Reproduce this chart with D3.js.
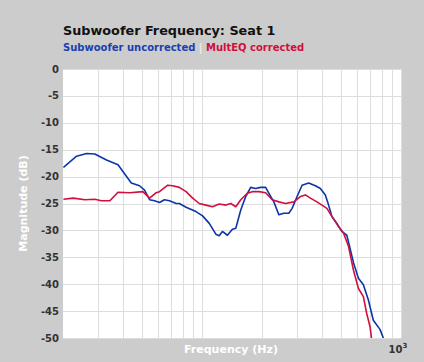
<!DOCTYPE html>
<html lang="en">

<head>
    <meta charset="utf-8">
    <title>Subwoofer Frequency: Seat 1</title>
    <script type="text/javascript" src="https://cdn.jsdelivr.net/npm/d3@7"></script>
    <style type="text/css">
    body {
        margin: 0;
        background: #cccccc;
    }
    text {
        font-family: "DejaVu Sans", Verdana, sans-serif;
        font-weight: bold;
    }
    </style>
</head>

<body>
    <script type="text/javascript">
    //svg size
    var w = 424;
    var h = 362;

    //plot area (window.top is reserved, so use own names)
    var plotL = 63, plotR = 401, plotT = 69, plotB = 338;

    //uncorrected (blue)
    var blueFreq = [20.1, 23.4, 26.3, 28.9, 33.1, 37.8, 44.1, 48.5, 51.4, 54.5, 57.7, 61.1, 64.7, 68.6, 74.1,
        76.9, 83.1, 93.2, 100.6, 108.7, 117.3, 121.9, 126.6, 134.1, 142.1, 147.8, 156.5, 165.8, 175.6, 186,
        197, 208.7, 216.8, 229.6, 243.2, 257.6, 272.9, 283.6, 300.4, 318.2, 343.6, 371.2, 393.2, 416.5,
        432.6, 449.4, 476, 504.2, 534, 550, 577, 611, 647, 685, 726, 784, 815];
    var blueDb = [-18.3, -16.2, -15.7, -15.8, -16.9, -17.8, -21.2, -21.7, -22.5, -24.3, -24.5, -24.8, -24.3, -24.5, -25,
        -25, -25.7, -26.5, -27.3, -28.7, -30.7, -31, -30.2, -30.9, -29.8, -29.6, -26.2, -23.7, -22, -22.2,
        -22, -22, -23.1, -24.7, -27.1, -26.8, -26.8, -25.9, -23.7, -21.6, -21.2, -21.7, -22.2, -23.4,
        -25.3, -27.4, -28.7, -30.2, -30.9, -32.8, -36, -38.9, -40.1, -42.9, -46.7, -48.4, -50];

    //MultEQ corrected (red)
    var redFreq = [20.1, 22.5, 25.8, 28.9, 31.2, 34.4, 37.8, 43.3, 50.4, 54.5, 58.8, 61.1, 67.2, 71.2, 76.9,
        83.1, 89.7, 96.8, 104.6, 112.8, 121.9, 131.7, 139.5, 147.8, 156.5, 168.9, 178.9, 193.2, 208.7,
        225.2, 243.2, 262.8, 289.1, 312.2, 330.8, 350.4, 378, 400.4, 424.2, 449.4, 485.3, 514, 545,
        577, 611, 647, 672, 699, 713];
    var redDb = [-24.2, -24, -24.3, -24.2, -24.5, -24.5, -22.9, -23, -22.8, -24, -23, -22.8, -21.6, -21.7, -22,
        -22.8, -24, -25, -25.3, -25.6, -25.1, -25.3, -25, -25.6, -24.3, -23.1, -22.8, -22.8, -23,
        -24.3, -24.7, -25, -24.7, -23.7, -23.4, -24, -24.7, -25.3, -25.9, -27.4, -29.3, -30.5, -33,
        -37.4, -40.8, -42.3, -45.4, -47.9, -50.5];

    //axes
    var yTicks = [0, -5, -10, -15, -20, -25, -30, -35, -40, -45, -50];
    var xGrid = [30, 40, 50, 60, 70, 80, 90, 100, 200, 300, 400, 500, 600, 700, 800, 900, 1000];

    var x = d3.scaleLog()
        .domain([20, 1000])
        .range([plotL, plotR]);

    var y = d3.scaleLinear()
        .domain([0, -50])
        .range([plotT, plotB]);

    //create svg
    var svg = d3.select('body')
        .append('svg')
        .attr('width', w)
        .attr('height', h);

    svg.append('rect')
        .attr('width', w)
        .attr('height', h)
        .attr('fill', '#cccccc');

    svg.append('rect')
        .attr('x', plotL)
        .attr('y', plotT)
        .attr('width', plotR - plotL)
        .attr('height', plotB - plotT)
        .attr('fill', 'white');

    svg.append('clipPath')
        .attr('id', 'plot')
        .append('rect')
        .attr('x', plotL)
        .attr('y', plotT)
        .attr('width', plotR - plotL)
        .attr('height', plotB - plotT);

    //grid
    svg.selectAll('line.vgrid')
        .data(xGrid)
        .enter()
        .append('line')
        .attr('class', 'vgrid')
        .attr('x1', function(d) { return Math.round(x(d)) + 0.5; })
        .attr('x2', function(d) { return Math.round(x(d)) + 0.5; })
        .attr('y1', plotT)
        .attr('y2', plotB)
        .attr('stroke', '#dddddd');

    svg.selectAll('line.hgrid')
        .data(yTicks)
        .enter()
        .append('line')
        .attr('class', 'hgrid')
        .attr('x1', plotL)
        .attr('x2', plotR)
        .attr('y1', function(d) { return Math.round(y(d)) + 0.5; })
        .attr('y2', function(d) { return Math.round(y(d)) + 0.5; })
        .attr('stroke', '#dddddd');

    //y tick labels
    svg.selectAll('text.ytick')
        .data(yTicks)
        .enter()
        .append('text')
        .attr('class', 'ytick')
        .attr('x', 59)
        .attr('y', function(d) { return y(d); })
        .attr('dy', '0.35em')
        .attr('text-anchor', 'end')
        .attr('font-size', '10px')
        .attr('fill', '#333333')
        .text(function(d) { return d; });

    //lines
    var line = d3.line()
        .x(function(d) { return x(d[0]); })
        .y(function(d) { return y(d[1]); });

    var series = [
        { freq: blueFreq, db: blueDb, color: '#0b36a8' },
        { freq: redFreq, db: redDb, color: '#d20f3c' }
    ];

    svg.append('g')
        .attr('clip-path', 'url(#plot)')
        .selectAll('path')
        .data(series)
        .enter()
        .append('path')
        .attr('fill', 'none')
        .attr('stroke', function(d) { return d.color; })
        .attr('stroke-width', 1.6)
        .attr('stroke-linejoin', 'round')
        .attr('d', function(d) { return line(d3.zip(d.freq, d.db)); });

    //titles
    svg.append('text')
        .attr('x', 63)
        .attr('y', 35)
        .attr('font-size', '12.8px')
        .attr('fill', '#111111')
        .text('Subwoofer Frequency: Seat 1');

    var sub = svg.append('text')
        .attr('x', 63)
        .attr('y', 51)
        .attr('font-size', '10px');
    sub.append('tspan').attr('fill', '#1a3fb0').text('Subwoofer uncorrected');
    sub.append('tspan').attr('fill', '#eeeeee').text(' | ');
    sub.append('tspan').attr('fill', '#d20f3c').text('MultEQ corrected');

    //axis titles
    svg.append('text')
        .attr('transform', 'translate(27,' + (plotT + plotB) / 2 + ') rotate(-90)')
        .attr('text-anchor', 'middle')
        .attr('font-size', '11px')
        .attr('fill', 'white')
        .text('Magnitude (dB)');

    svg.append('text')
        .attr('x', 231)
        .attr('y', 353)
        .attr('text-anchor', 'middle')
        .attr('font-size', '11px')
        .attr('fill', 'white')
        .text('Frequency (Hz)');

    var xt = svg.append('text')
        .attr('x', x(1000) - 3)
        .attr('y', 353)
        .attr('text-anchor', 'middle')
        .attr('font-size', '10px')
        .attr('fill', '#333333');
    xt.append('tspan').text('10');
    xt.append('tspan').attr('dy', -5).attr('font-size', '7px').text('3');
    </script>
</body>
